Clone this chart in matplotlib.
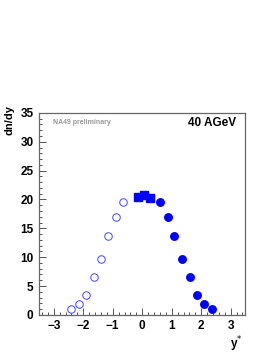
import numpy as np
import matplotlib
matplotlib.use("Agg")
import matplotlib.pyplot as plt
from matplotlib.ticker import MultipleLocator

plt.rcParams['font.family'] = ['Liberation Sans', 'DejaVu Sans']

# measured points (full circles), mirrored points (open circles), central squares
y_full = [0.61, 0.86, 1.09, 1.35, 1.61, 1.86, 2.10, 2.35]
dndy_full = [19.5, 16.9, 13.6, 9.7, 6.5, 3.5, 1.8, 1.0]
y_open = [-0.65, -0.90, -1.16, -1.41, -1.64, -1.90, -2.14, -2.40]
dndy_open = [19.5, 16.9, 13.6, 9.7, 6.5, 3.5, 1.8, 1.0]
y_sq = [-0.15, 0.06, 0.27]
dndy_sq = [20.5, 20.8, 20.2]

fig = plt.figure(figsize=(2.73, 3.53), dpi=100)
ax = fig.add_axes([0.143, 0.108, 0.756, 0.572])

ax.plot(y_open, dndy_open, 'o', ms=5.4, mfc='white', mec='#4444ff', mew=0.7, ls='none')
ax.plot(y_full, dndy_full, 'o', ms=5.4, color='#0000ff', ls='none')
ax.plot(y_sq, dndy_sq, 's', ms=5.6, color='#0000ff', ls='none')

ax.set_xlim(-3.5, 3.5)
ax.set_ylim(0, 35)
ax.xaxis.set_major_locator(MultipleLocator(1))
ax.xaxis.set_minor_locator(MultipleLocator(0.2))
ax.yaxis.set_major_locator(MultipleLocator(5))
ax.yaxis.set_minor_locator(MultipleLocator(1))
ax.tick_params(which='both', direction='in', colors='#555555', labelcolor='black',
               labelsize=8.5, width=0.7)
ax.tick_params(which='major', length=5, pad=4)
ax.tick_params(which='minor', length=2.5)
for lab in ax.get_xticklabels() + ax.get_yticklabels():
    lab.set_fontweight('bold')
for s in ax.spines.values():
    s.set_color('#666666')
    s.set_linewidth(0.9)

ax.text(-0.145, 1.04, 'dn/dy', transform=ax.transAxes, rotation=90, ha='center',
        va='top', fontsize=8, fontweight='bold')
ax.text(0.955, -0.095, r'y$^{*}$', transform=ax.transAxes, ha='center', va='top',
        fontsize=8.5, fontweight='bold')
ax.text(0.07, 0.955, 'NA49 preliminary', transform=ax.transAxes, ha='left',
        va='center', fontsize=5, fontweight='bold', color='#999999')
ax.text(0.955, 0.95, '40 AGeV', transform=ax.transAxes, ha='right', va='center',
        fontsize=8.5, fontweight='bold')

fig.savefig('out.png', dpi=100)
